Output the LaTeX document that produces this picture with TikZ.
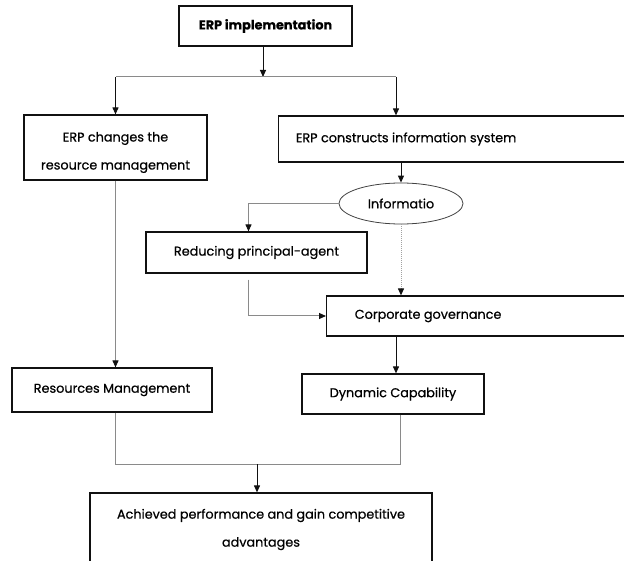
\documentclass[tikz,border=0pt]{standalone}
\usepackage{fontspec}
\setmainfont{Poppins}[FakeBold=0.6]
\usepackage{tikz}
\usetikzlibrary{positioning,shapes.geometric,arrows.meta,calc}
\definecolor{ink}     {HTML}{111111}
\definecolor{wire}    {HTML}{8A8A8A}
\tikzset{
  every node/.style={font=\fontsize{12.8}{28}\selectfont},
  % --- nodes
  box/.style   = {draw=ink, line width=1.2pt, fill=white, align=center, inner sep=4pt},
  oval/.style  = {ellipse, draw=ink!80, line width=0.8pt, fill=white, inner sep=0pt},
  % --- edges
  e/.style     = {-{Triangle[length=7pt,width=6pt]}, line width=1pt, draw=ink},
  eg/.style    = {-{Triangle[length=7pt,width=6pt,color=ink]}, line width=1pt, draw=wire},
  ln/.style    = {line width=1pt, draw=wire},
  dots/.style  = {eg, densely dotted, draw=wire!80},
}
\begin{document}
\begin{tikzpicture}[x=1pt,y=-1pt]
  \useasboundingbox (0,0) rectangle (624,561);
  \clip (0,0) rectangle (624,561);
  \fill[white] (0,0) rectangle (624,561);

  \node[box, minimum width=173, minimum height=40] (impl) at (265.5,26) {\textbf{ERP implementation}};
  \node[box, minimum width=183, minimum height=65,
        label={[yshift=-5pt,align=center]center:ERP changes the\\resource management}] (chg) at (115.5,147.5) {};
  \node[box, anchor=west, minimum width=380, minimum height=46,
        label={[xshift=-62.5pt]center:ERP constructs information system}] (cons) at (278,139) {};
  \node[oval, minimum width=124, minimum height=41] (info) at (401,203.5) {Informatio};
  \node[box, minimum width=221, minimum height=41] (red) at (256.5,252.5) {Reducing principal-agent};
  \node[box, anchor=west, minimum width=330, minimum height=40,
        label={[xshift=-63.5pt]center:Corporate governance}] (cg) at (326,316) {};
  \node[box, minimum width=200, minimum height=44] (rm) at (112,390) {Resources Management};
  \node[box, minimum width=182, minimum height=40] (dc) at (393,394) {Dynamic Capability};
  \node[box, minimum width=342, minimum height=73] (ach) at (261,529.5)
        {Achieved performance and gain competitive\\advantages};

  \coordinate (split) at (263,77);
  \coordinate (join) at (257,464);

  \draw[e] (impl.south -| split) -- (split);
  \draw[ln] (split) -- (chg.north |- split);
  \draw[ln] (split) -- ([xshift=118pt]cons.north west |- split);
  \draw[e] (chg.north |- split) -- (chg.north);
  \draw[e] ([xshift=118pt]cons.north west |- split) -- ([xshift=118pt]cons.north west);
  \draw[e] (info.north |- cons.south) -- (info.north);
  \draw[eg] (info.west) -| ([xshift=-8pt]red.north);
  \draw[dots] (info.south) -- (info.south |- cg.north);
  \draw[eg] ([xshift=-8pt,yshift=-6pt]red.south) |- (cg.west);
  \draw[e] ([xshift=3pt]dc.north |- cg.south) -- ([xshift=3pt]dc.north);
  \draw[eg] (chg.south) -- (chg.south |- rm.north);
  \draw[ln] (chg.south |- rm.south) |- (join);
  \draw[ln] ([xshift=7pt]dc.south) |- (join);
  \draw[e] (join) -- (join |- ach.north);
\end{tikzpicture}
\end{document}
